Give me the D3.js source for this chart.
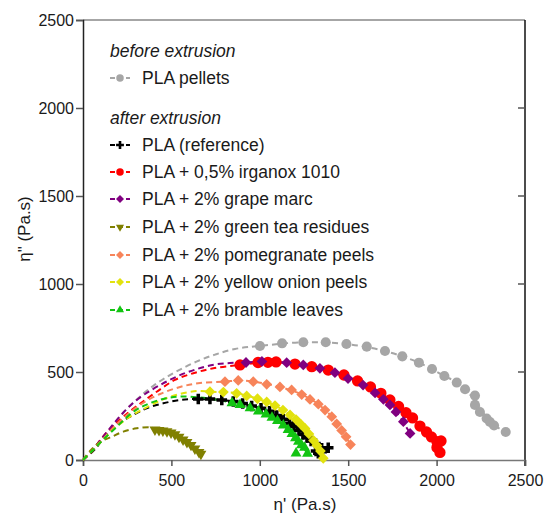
<!DOCTYPE html>
<html>
<head>
<meta charset="utf-8">
<script src="https://cdn.jsdelivr.net/npm/d3@7"></script>
<style>
  html, body { margin: 0; padding: 0; background: #fff; }
  svg { display: block; font-family: "Liberation Sans", Arial, sans-serif; }
</style>
</head>
<body>
<svg id="chart" width="547" height="516"></svg>
<script>
// Cole-Cole plot: loss viscosity η'' against storage viscosity η' (Pa.s)

const axisTicks = [0, 500, 1000, 1500, 2000, 2500];

// measured points [η', η'']
const pelletsPts = [[1001,648],[1126,663],[1246,669],[1373,669],[1490,659],[1605,644],[1708,619],[1806,589],[1900,553],[1974,517],[2044,477],[2114,440],[2161,402],[2217,366],[2217,313],[2245,273],[2283,236],[2302,216],[2325,196],[2391,159]];
const referencePts = [[652,347],[718,347],[785,341],[850,332],[903,321],[954,307],[1007,294],[1055,277],[1096,253],[1133,232],[1168,209],[1193,190],[1222,168],[1244,145],[1267,128],[1290,108],[1315,94],[1350,66],[1387,70],[1318,51],[1350,47],[1331,38]];
const irganoxPts = [[888,540],[990,554],[1046,555],[1092,557],[1199,545],[1294,530],[1387,511],[1476,483],[1553,449],[1626,415],[1685,379],[1736,341],[1785,304],[1827,269],[1864,239],[1906,193],[1943,159],[1971,131],[2002,105],[2025,108],[2002,71],[2019,43]];
const grapePts = [[922,554],[1012,560],[1152,553],[1246,540],[1340,521],[1425,496],[1499,463],[1584,426],[1652,381],[1699,345],[1736,313],[1770,273],[1812,218],[1850,151]];
const greenTeaPts = [[407,173],[430,170],[452,166],[475,162],[498,155],[520,145],[543,131],[566,116],[588,102],[611,85],[633,65],[656,45],[667,34]];
const pomegranatePts = [[803,445],[878,452],[963,445],[1039,430],[1114,415],[1180,398],[1237,372],[1284,344],[1331,317],[1369,284],[1407,246],[1435,205],[1463,168],[1488,132],[1513,88]];
const onionPts = [[718,388],[794,386],[869,379],[926,364],[987,348],[1039,330],[1086,309],[1131,284],[1171,256],[1205,230],[1233,202],[1256,179],[1278,148],[1304,111],[1323,82],[1343,51],[1359,10]];
const bramblePts = [[843,324],[888,313],[945,295],[992,276],[1035,259],[1069,241],[1100,222],[1133,197],[1160,172],[1182,148],[1202,124],[1219,104],[1236,85],[1253,71],[1205,38],[1270,37]];

// fitted curves [η', η'']
const pelletsFit = [[0,0],[57,57],[113,122],[170,199],[226,267],[283,324],[339,375],[396,420],[464,466],[549,514],[645,560],[747,599],[860,631],[1001,648],[1246,669],[1490,659],[1708,619],[1900,553],[2044,477],[2114,440],[2217,340],[2302,216],[2391,159]];
const referenceFit = [[0,0],[68,62],[171,189],[266,246],[360,294],[454,322],[549,341],[652,347],[785,341],[903,321],[1007,294],[1096,253],[1168,209],[1222,168],[1267,128],[1315,94],[1350,55]];
const irganoxFit = [[0,0],[51,51],[107,125],[164,188],[228,246],[313,313],[417,388],[520,455],[624,493],[737,521],[888,540],[1046,556],[1199,546],[1387,511],[1553,449],[1685,379],[1785,304],[1864,239],[1943,159],[2002,100],[2020,45]];
const grapeFit = [[0,0],[57,62],[113,131],[170,202],[226,267],[283,324],[351,375],[436,426],[537,477],[645,517],[747,543],[831,551],[922,554],[1012,560],[1152,553],[1340,521],[1499,463],[1652,381],[1770,273],[1850,151]];
const greenTeaFit = [[0,0],[40,51],[96,102],[162,132],[228,161],[304,180],[379,186],[407,180],[475,166],[543,138],[611,90],[667,38]];
const pomegranateFit = [[0,0],[57,57],[113,119],[181,193],[255,261],[339,324],[436,375],[549,415],[662,438],[803,445],[878,452],[963,446],[1114,415],[1237,372],[1331,317],[1407,246],[1463,168],[1513,88]];
const onionFit = [[0,0],[57,57],[113,114],[181,182],[266,246],[360,299],[454,345],[549,375],[643,392],[718,388],[869,379],[987,348],[1086,309],[1171,256],[1233,202],[1278,148],[1323,82],[1359,10]];
const brambleFit = [[0,0],[57,57],[113,114],[181,179],[284,273],[360,315],[454,347],[549,361],[662,355],[752,344],[843,324],[945,295],[1035,259],[1100,222],[1160,172],[1202,124],[1236,85],[1270,37]];

const seriesNames = [
  "PLA pellets",
  "PLA (reference)",
  "PLA + 0,5% irganox 1010",
  "PLA + 2% grape marc",
  "PLA + 2% green tea residues",
  "PLA + 2% pomegranate peels",
  "PLA + 2% yellow onion peels",
  "PLA + 2% bramble leaves"
];
const seriesColors = ["#a6a6a6", "#000000", "#ff0000", "#800080", "#808000", "#f7845a", "#e2e20e", "#12c412"];
const seriesShapes = ["circle", "cross", "circle", "diamond", "triangleDown", "diamond", "diamond", "triangle"];

const series = [
  { pts: pelletsPts, fit: pelletsFit },
  { pts: referencePts, fit: referenceFit },
  { pts: irganoxPts, fit: irganoxFit },
  { pts: grapePts, fit: grapeFit },
  { pts: greenTeaPts, fit: greenTeaFit },
  { pts: pomegranatePts, fit: pomegranateFit },
  { pts: onionPts, fit: onionFit },
  { pts: bramblePts, fit: brambleFit }
].map((s, i) => ({ ...s, name: seriesNames[i], color: seriesColors[i], shape: seriesShapes[i] }));

const svg = d3.select("#chart");
const x = d3.scaleLinear().domain([0, 2500]).range([83, 525]);
const y = d3.scaleLinear().domain([0, 2500]).range([460, 20]);
const fontFamily = "Liberation Sans, Arial, sans-serif";

// frame
svg.append("line").attr("x1", x(0)).attr("x2", x(2500)).attr("y1", y(2500)).attr("y2", y(2500))
  .attr("stroke", "#888").attr("stroke-width", 1.5);
svg.append("line").attr("x1", x(2500)).attr("x2", x(2500)).attr("y1", y(2500)).attr("y2", y(0) + 6)
  .attr("stroke", "#111").attr("stroke-width", 1.5);

// right-side inner ticks
svg.append("g").selectAll("line").data(axisTicks.slice(1, -1)).join("line")
  .attr("x1", x(2500) - 7).attr("x2", x(2500)).attr("y1", d => y(d)).attr("y2", d => y(d))
  .attr("stroke", "#555").attr("stroke-width", 1.5);

// axes
const xAxis = svg.append("g").attr("transform", `translate(0,${y(0)})`)
  .call(d3.axisBottom(x).tickValues(axisTicks).tickSize(6).tickPadding(9).tickFormat(d3.format("d")));
xAxis.select(".domain").attr("stroke", "#777").attr("stroke-width", 1.5);
xAxis.selectAll(".tick line").attr("stroke", "#555").attr("stroke-width", 1.5);
xAxis.selectAll("text").attr("font-size", 16).attr("fill", "#1a1a1a").attr("font-family", fontFamily);

const yAxis = svg.append("g").attr("transform", `translate(${x(0)},0)`)
  .call(d3.axisLeft(y).tickValues(axisTicks).tickSize(7).tickPadding(2).tickFormat(d3.format("d")));
yAxis.select(".domain").attr("stroke", "#222").attr("stroke-width", 1.5);
yAxis.selectAll(".tick line").attr("stroke", "#555").attr("stroke-width", 1.5);
yAxis.selectAll("text").attr("font-size", 16).attr("fill", "#1a1a1a").attr("font-family", fontFamily);

// axis titles
svg.append("text").attr("x", 305).attr("y", 510).attr("text-anchor", "middle")
  .attr("font-size", 17).attr("fill", "#1a1a1a").text("η' (Pa.s)");
svg.append("text").attr("transform", `translate(30,229) rotate(-90)`)
  .attr("text-anchor", "middle").attr("font-size", 17).attr("fill", "#1a1a1a").text('η" (Pa.s)');

// symbol helper
function symbolPath(shape, size) {
  const types = {
    circle: d3.symbolCircle,
    cross: d3.symbolCross,
    diamond: d3.symbolSquare,
    triangle: d3.symbolTriangle,
    triangleDown: d3.symbolTriangle
  };
  return d3.symbol().type(types[shape]).size(size)();
}
function symbolRotate(shape) {
  if (shape === "diamond") return 45;
  if (shape === "triangleDown") return 180;
  return 0;
}
const markerSize = { circle: 80, cross: 62, diamond: 58, triangle: 52, triangleDown: 52 };

const line = d3.line().x(d => x(d[0])).y(d => y(d[1])).curve(d3.curveCatmullRom.alpha(0.5));

const plot = svg.append("g");

// fitted dashed curves
plot.selectAll("path.fit").data(series).join("path")
  .attr("class", "fit")
  .attr("d", d => line(d.fit))
  .attr("fill", "none")
  .attr("stroke", d => d.color)
  .attr("stroke-width", 2)
  .attr("stroke-dasharray", "6,4");

// markers
series.forEach(s => {
  const sz = s.color === "#ff0000" ? 100 : markerSize[s.shape];
  plot.append("g").selectAll("path").data(s.pts).join("path")
    .attr("d", symbolPath(s.shape, sz))
    .attr("transform", d => `translate(${x(d[0])},${y(d[1])}) rotate(${symbolRotate(s.shape)})`)
    .attr("fill", s.color);
});

// legend
const legend = svg.append("g");
const legendX = 110;
const headers = [
  { text: "before extrusion", y: 57 },
  { text: "after extrusion", y: 124 }
];
legend.selectAll("text.head").data(headers).join("text")
  .attr("class", "head")
  .attr("x", legendX).attr("y", d => d.y)
  .attr("font-size", 17.5).attr("font-style", "italic").attr("fill", "#1a1a1a")
  .text(d => d.text);

const rowY = [78, 145, 172, 199, 227, 255, 282, 310];
const rows = legend.selectAll("g.row").data(series).join("g")
  .attr("class", "row")
  .attr("transform", (d, i) => `translate(0,${rowY[i]})`);
rows.append("line").attr("x1", legendX).attr("x2", legendX + 20).attr("y1", 0).attr("y2", 0)
  .attr("stroke", d => d.color).attr("stroke-width", 2).attr("stroke-dasharray", "5,3");
rows.append("path")
  .attr("d", d => symbolPath(d.shape, markerSize[d.shape] * 0.55))
  .attr("transform", d => `translate(${legendX + 10},0) rotate(${symbolRotate(d.shape)})`)
  .attr("fill", d => d.color);
rows.append("text").attr("x", legendX + 32).attr("y", 0).attr("dy", "0.36em")
  .attr("font-size", 17.5).attr("fill", "#1a1a1a").text(d => d.name);
</script>
</body>
</html>
